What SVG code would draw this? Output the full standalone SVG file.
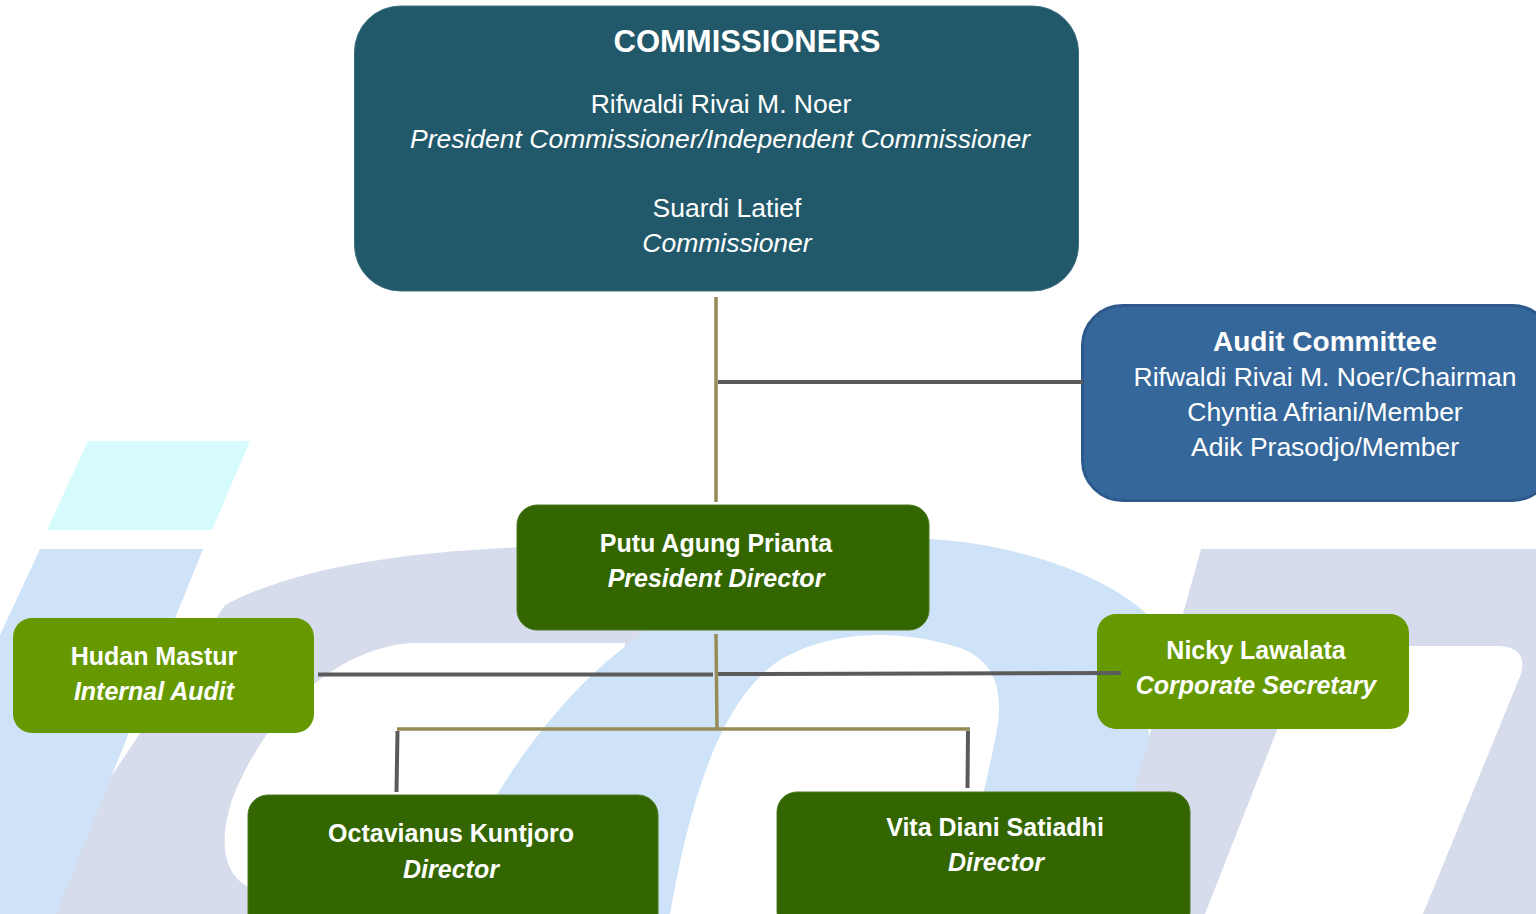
<svg xmlns="http://www.w3.org/2000/svg" width="1536" height="914" viewBox="0 0 1536 914">
<style>
text{font-family:"Liberation Sans",Arial,sans-serif;fill:#ffffff;text-anchor:middle}
.b{font-weight:bold}
.i{font-style:italic}
.olive{stroke:#958b56;stroke-width:3.5;fill:none}
.gray{stroke:#5b5b5b;stroke-width:4;fill:none}
.dark{fill:#336600;stroke:#4a7a1e;stroke-width:1}
.light{fill:#669900}
</style>
<rect width="1536" height="914" fill="#ffffff"/>
<g id="watermark">
  <polygon points="88,441 250,441 212,530 47,530" fill="#d5fbfd"/>
  <path d="M225,605 C300,565 420,549 560,546 L760,544 L760,914 L20,914 Z" fill="#d6dcec"/>
  <path d="M625,643 L410,643 C330,650 262,720 232,800 C216,850 226,884 262,892 L600,892 Z" fill="#ffffff"/>
  <polygon points="40,549 203,549 56,914 -130,914" fill="#cfe3f8"/>
  <path d="M440,914 C480,800 560,690 640,636 C700,560 800,538 900,538 C1000,538 1100,570 1148,615 L1150,914 Z" fill="#cfe3f8"/>
  <path d="M670,914 C690,800 720,700 780,660 C830,630 900,628 960,648 C1000,662 1004,700 995,740 C985,790 970,850 955,914 Z" fill="#ffffff"/>
  <path d="M1201,549 L1536,549 L1536,914 L1100,914 Z" fill="#d6dcec"/>
  <path d="M1310,646 L1500,646 Q1528,648 1521,674 L1423,914 L1205,914 Z" fill="#ffffff"/>
</g>
<g id="commissioners">
  <rect x="354.5" y="6" width="724" height="285" rx="46" fill="#22596a" stroke="#3c7080" stroke-width="1"/>
  <text class="b" x="747" y="52" font-size="31">COMMISSIONERS</text>
  <text x="721" y="113" font-size="26.5">Rifwaldi Rivai M. Noer</text>
  <text class="i" x="720" y="148" font-size="26.5">President Commissioner/Independent Commissioner</text>
  <text x="727" y="217" font-size="26.5">Suardi Latief</text>
  <text class="i" x="727" y="252" font-size="26.5">Commissioner</text>
</g>
<g id="audit-committee">
  <rect x="1082.5" y="305.5" width="470" height="195" rx="40" fill="#35679b" stroke="#2d5a8b" stroke-width="3"/>
  <text class="b" x="1325" y="351" font-size="28">Audit Committee</text>
  <text x="1325" y="386" font-size="26.5">Rifwaldi Rivai M. Noer/Chairman</text>
  <text x="1325" y="421" font-size="26.5">Chyntia Afriani/Member</text>
  <text x="1325" y="456" font-size="26.5">Adik Prasodjo/Member</text>
</g>
<g id="president-director">
  <rect class="dark" x="517" y="505" width="412" height="125" rx="20"/>
  <text class="b" x="716" y="552" font-size="25">Putu Agung Prianta</text>
  <text class="b i" x="716" y="587" font-size="25">President Director</text>
</g>
<g id="internal-audit">
  <rect class="light" x="13" y="618" width="301" height="115" rx="19"/>
  <text class="b" x="154" y="665" font-size="25">Hudan Mastur</text>
  <text class="b i" x="154" y="700" font-size="25">Internal Audit</text>
</g>
<g id="corporate-secretary">
  <rect class="light" x="1097" y="614" width="312" height="115" rx="19"/>
  <text class="b" x="1256" y="659" font-size="25">Nicky Lawalata</text>
  <text class="b i" x="1256" y="694" font-size="25">Corporate Secretary</text>
</g>
<g id="director-octavianus">
  <rect class="dark" x="248" y="795" width="410" height="140" rx="20"/>
  <text class="b" x="451" y="842" font-size="25">Octavianus Kuntjoro</text>
  <text class="b i" x="451" y="878" font-size="25">Director</text>
</g>
<g id="director-vita">
  <rect class="dark" x="777" y="792" width="413" height="140" rx="20"/>
  <text class="b" x="995" y="836" font-size="25">Vita Diani Satiadhi</text>
  <text class="b i" x="996" y="871" font-size="25">Director</text>
</g>
<g id="connectors">
  <line class="olive" x1="716" y1="297" x2="716" y2="502"/>
  <line class="gray" x1="718" y1="382" x2="1083" y2="382"/>
  <line class="olive" x1="716" y1="634" x2="717" y2="729"/>
  <line class="gray" x1="318" y1="674.5" x2="713" y2="674.5"/>
  <line class="gray" x1="718" y1="674" x2="1121" y2="673"/>
  <line class="olive" x1="397" y1="729" x2="970" y2="729"/>
  <line class="gray" stroke-width="3" x1="397.5" y1="731" x2="396.5" y2="792"/>
  <line class="gray" stroke-width="3" x1="968" y1="731" x2="967.5" y2="788"/>
</g>
</svg>
